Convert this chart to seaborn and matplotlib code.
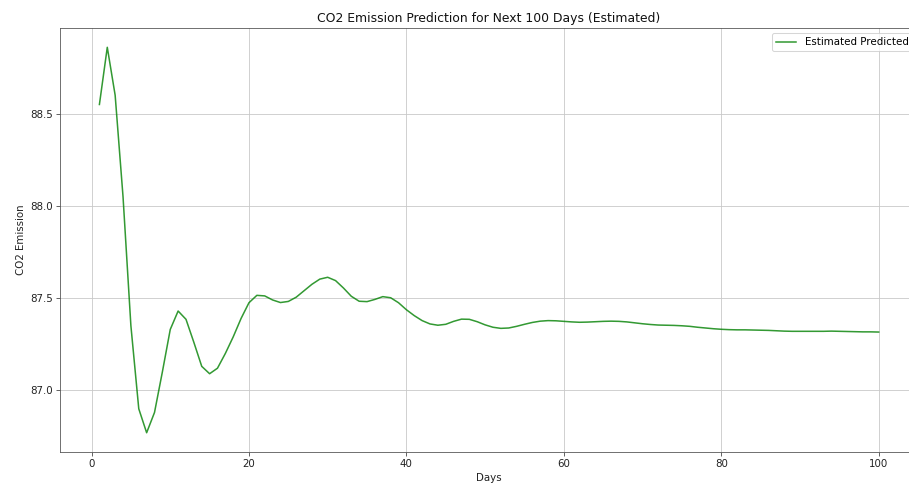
import matplotlib
matplotlib.use("Agg")
import matplotlib.pyplot as plt
import seaborn as sns
import pandas as pd

days = list(range(1, 101))
predicted = [
    88.55, 88.86, 88.60, 88.05, 87.35, 86.90, 86.77, 86.88, 87.10, 87.33,
    87.43, 87.385, 87.26, 87.13, 87.09, 87.12, 87.20, 87.29, 87.39, 87.475,
    87.515, 87.512, 87.49, 87.476, 87.482, 87.505, 87.54, 87.575, 87.603, 87.613,
    87.595, 87.555, 87.51, 87.483, 87.481, 87.493, 87.508, 87.502, 87.475, 87.437,
    87.405, 87.378, 87.36, 87.353, 87.358, 87.374, 87.386, 87.385, 87.372, 87.355,
    87.342, 87.336, 87.338, 87.347, 87.358, 87.368, 87.375, 87.378, 87.377, 87.374,
    87.371, 87.369, 87.37, 87.372, 87.374, 87.375, 87.374, 87.371, 87.366, 87.361,
    87.357, 87.354, 87.353, 87.352, 87.35, 87.347, 87.342, 87.338, 87.334, 87.331,
    87.329, 87.328, 87.328, 87.327, 87.326, 87.325, 87.323, 87.321, 87.320, 87.320,
    87.320, 87.320, 87.320, 87.321, 87.320, 87.319, 87.318, 87.317, 87.317, 87.316,
]

df = pd.DataFrame({"Days": days, "Predicted": predicted})

# the source image is a cropped screenshot, so the axes run past the right edge
fig = plt.figure(figsize=(909 / 74, 491 / 74), dpi=74)
ax = fig.add_axes([0.0665, 0.0794, 0.943, 0.8635])

sns.lineplot(data=df, x="Days", y="Predicted", ax=ax, color="green",
             alpha=0.8, linewidth=1.5, label="Estimated Predicted")

ax.set_title("CO2 Emission Prediction for Next 100 Days (Estimated)", color="#111111")
ax.set_xlabel("Days", color="#222222")
ax.set_ylabel("CO2 Emission", color="#222222")
ax.set_xticks([0, 20, 40, 60, 80, 100])
ax.set_yticks([87.0, 87.5, 88.0, 88.5])
ax.tick_params(colors="#444444", labelcolor="#222222")
for s in ax.spines.values():
    s.set_color("#555555")
ax.grid(True, color="#c8c8c8")
ax.legend(loc="upper right")

fig.savefig("out.png", dpi=74)
